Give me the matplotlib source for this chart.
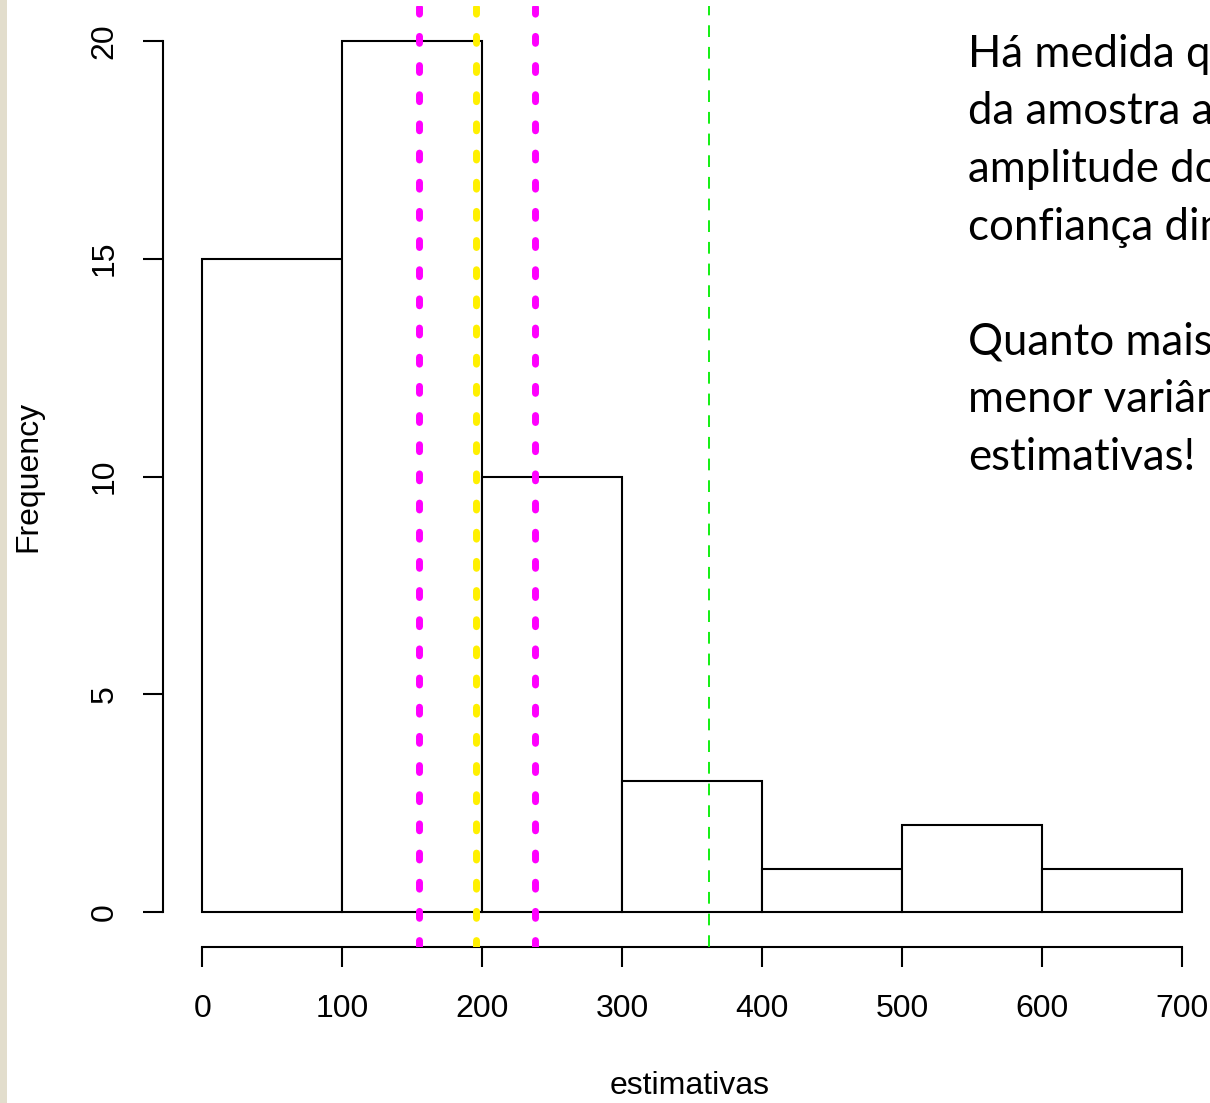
import matplotlib
matplotlib.use("Agg")
import matplotlib.pyplot as plt
from matplotlib.patches import Rectangle

# ---- data ----
bin_edges = [0, 100, 200, 300, 400, 500, 600, 700]
counts = [15, 20, 10, 3, 1, 2, 1]
ci_lower = 155
ci_upper = 238
sample_mean = 196
true_value = 362
x_ticks = [0, 100, 200, 300, 400, 500, 600, 700]
y_ticks = [0, 5, 10, 15, 20]
xlabel = "estimativas"
ylabel = "Frequency"
note_lines = ["Há medida q", "da amostra a", "amplitude do", "confiança dim",
              "", "Quanto mais", "menor variân", "estimativas!"]

W, H = 1210, 1103
fig = plt.figure(figsize=(W / 100, H / 100), dpi=100)
fig.patch.set_facecolor("white")

# plot region (R style, 4% extension)
left_px, right_px, top_px, bottom_px = 163, 1221, 6, 947
ax = fig.add_axes([left_px / W, (H - bottom_px) / H,
                   (right_px - left_px) / W, (bottom_px - top_px) / H])
ax.set_xlim(-28, 728)
ax.set_ylim(-0.8, 20.8)
ax.patch.set_alpha(0)

rfont = "Liberation Sans"
fs = 23

# histogram bars
widths = [bin_edges[i + 1] - bin_edges[i] for i in range(len(counts))]
ax.bar(bin_edges[:-1], counts, width=widths, align="edge", facecolor="white",
       edgecolor="black", linewidth=1.5, zorder=2)

# vertical lines
ylo, yhi = -0.8, 20.8
ax.plot([true_value, true_value], [ylo, yhi], color="#00EE00", lw=1.3,
        linestyle=(0, (6.5, 5.5)), zorder=3)
dot_style = (0, (1.0, 3.2))
for xv in (ci_lower, ci_upper):
    ax.plot([xv, xv], [ylo, yhi], color="#FF00FF", lw=5,
            linestyle=dot_style, dash_capstyle="round", zorder=4)
ax.plot([sample_mean, sample_mean], [ylo, yhi], color="#FFF000", lw=5,
        linestyle=dot_style, dash_capstyle="round", zorder=4)

# axes styling
for s in ("top", "right"):
    ax.spines[s].set_visible(False)
ax.spines["left"].set_bounds(0, 20)
ax.spines["bottom"].set_bounds(0, 700)
for s in ("left", "bottom"):
    ax.spines[s].set_linewidth(1.5)
ax.set_xticks(x_ticks)
ax.set_yticks(y_ticks)
ax.set_xticklabels([str(v) for v in x_ticks], fontsize=fs, family=rfont)
ax.set_yticklabels([str(v) for v in y_ticks], fontsize=fs, family=rfont,
                   rotation=90, va="center")
ax.tick_params(axis="both", direction="out", length=14.5, width=1.5)
ax.tick_params(axis="x", pad=19)
ax.tick_params(axis="y", pad=17)

fig.text(690 / W, 1 - 1086 / H, xlabel, ha="center", va="center",
         fontsize=fs, family=rfont)
fig.text(28 / W, 1 - 476 / H, ylabel, ha="center", va="center",
         fontsize=fs, family=rfont, rotation=90)

# left decorative strip
fig.patches.append(Rectangle((0, 0), 7 / W, 1, transform=fig.transFigure,
                             facecolor="#e2ddcc", edgecolor="none"))

# right note text
baseline0 = 67
spacing = 57.5
for i, line in enumerate(note_lines):
    if not line:
        continue
    fig.text(968 / W, 1 - (baseline0 + i * spacing) / H, line,
             ha="left", va="baseline", fontsize=31.5, family="Lato",
             color="black")

fig.savefig("out.png", dpi=100)
